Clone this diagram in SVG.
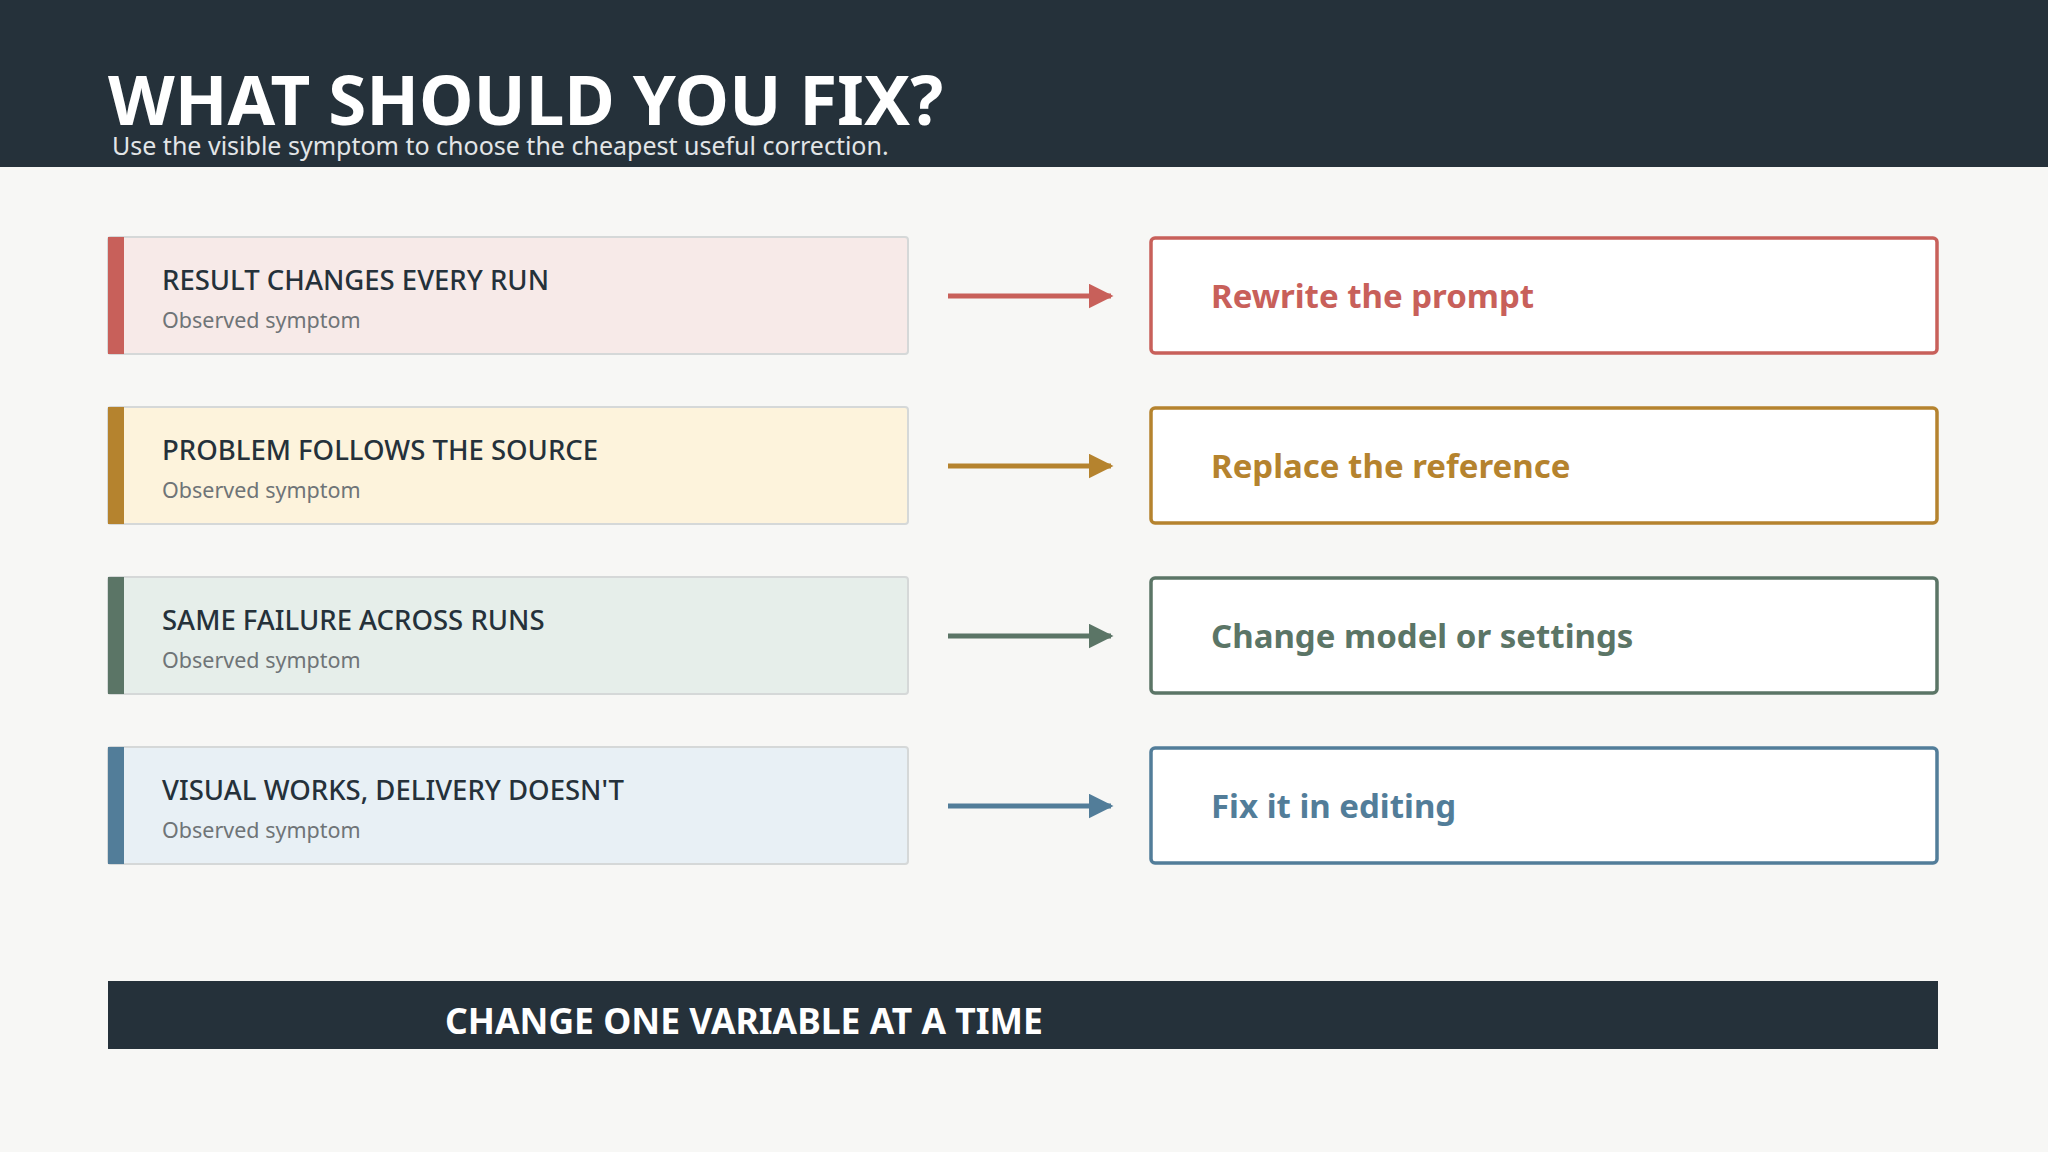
<svg xmlns="http://www.w3.org/2000/svg" width="2048" height="1152" viewBox="0 0 2048 1152">
<style>
text{font-family:"Noto Sans","Open Sans","DejaVu Sans",sans-serif}
.t{font-size:27.5px;fill:#25313a;font-weight:500}
.s{font-size:21.5px;fill:#6f7477}
.a{font-size:33px;font-weight:700}
.box{stroke:#d5d8d8;stroke-width:2}
.rb{fill:#fff;stroke-width:3.5}
</style>
<defs>
<marker id="m" viewBox="0 0 10 10" refX="9" refY="5" markerWidth="5" markerHeight="5" orient="auto" markerUnits="strokeWidth"><path d="M0,0L10,5L0,10z" fill="context-stroke"/></marker>
</defs>
<rect width="2048" height="1152" fill="#f7f7f5"/>
<rect width="2048" height="167" fill="#25313a"/>
<text x="108" y="125" font-size="69" font-weight="700" fill="#fff">WHAT SHOULD YOU FIX?</text>
<text x="112" y="155" font-size="25" fill="#e2e5e7">Use the visible symptom to choose the cheapest useful correction.</text>
<g id="s1"><rect class="box" x="108" y="237" width="800" height="117" rx="3" fill="#f7eae8"/><rect x="108" y="237" width="16" height="117" fill="#c8605a"/><text class="t" x="162" y="290">RESULT CHANGES EVERY RUN</text><text class="s" x="162" y="328">Observed symptom</text></g>
<g id="s2"><rect class="box" x="108" y="407" width="800" height="117" rx="3" fill="#fdf3dc"/><rect x="108" y="407" width="16" height="117" fill="#b5832e"/><text class="t" x="162" y="460">PROBLEM FOLLOWS THE SOURCE</text><text class="s" x="162" y="498">Observed symptom</text></g>
<g id="s3"><rect class="box" x="108" y="577" width="800" height="117" rx="3" fill="#e6eeea"/><rect x="108" y="577" width="16" height="117" fill="#5b7566"/><text class="t" x="162" y="630">SAME FAILURE ACROSS RUNS</text><text class="s" x="162" y="668">Observed symptom</text></g>
<g id="s4"><rect class="box" x="108" y="747" width="800" height="117" rx="3" fill="#e8f0f5"/><rect x="108" y="747" width="16" height="117" fill="#527d99"/><text class="t" x="162" y="800">VISUAL WORKS, DELIVERY DOESN'T</text><text class="s" x="162" y="838">Observed symptom</text></g>
<g id="connectors" stroke-width="5" fill="none">
<line x1="948" y1="296" x2="1111" y2="296" stroke="#c8605a" marker-end="url(#m)"/>
<line x1="948" y1="466" x2="1111" y2="466" stroke="#b5832e" marker-end="url(#m)"/>
<line x1="948" y1="636" x2="1111" y2="636" stroke="#5b7566" marker-end="url(#m)"/>
<line x1="948" y1="806" x2="1111" y2="806" stroke="#527d99" marker-end="url(#m)"/>
</g>
<g id="f1"><rect class="rb" x="1151" y="238" width="786" height="115" rx="4" stroke="#c8605a"/><text class="a" x="1211" y="308" fill="#c8605a">Rewrite the prompt</text></g>
<g id="f2"><rect class="rb" x="1151" y="408" width="786" height="115" rx="4" stroke="#b5832e"/><text class="a" x="1211" y="478" fill="#b5832e">Replace the reference</text></g>
<g id="f3"><rect class="rb" x="1151" y="578" width="786" height="115" rx="4" stroke="#5b7566"/><text class="a" x="1211" y="648" fill="#5b7566">Change model or settings</text></g>
<g id="f4"><rect class="rb" x="1151" y="748" width="786" height="115" rx="4" stroke="#527d99"/><text class="a" x="1211" y="818" fill="#527d99">Fix it in editing</text></g>
<g id="footer"><rect x="108" y="981" width="1830" height="68" fill="#25313a"/><text x="445" y="1034" font-size="35.5" font-weight="700" fill="#fff">CHANGE ONE VARIABLE AT A TIME</text></g>
</svg>
